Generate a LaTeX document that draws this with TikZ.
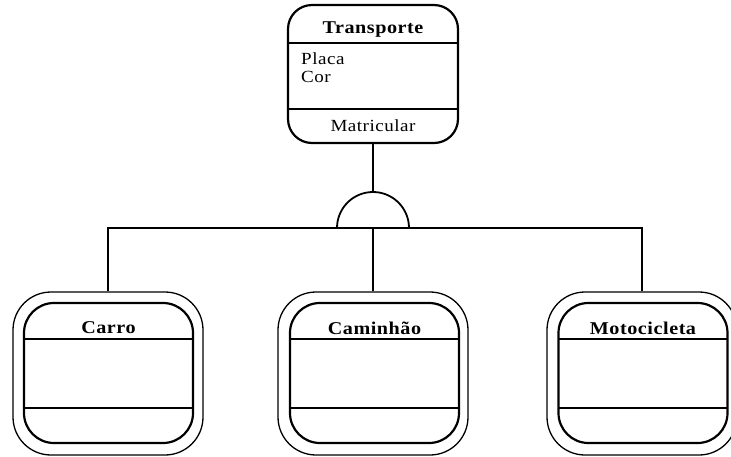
\documentclass[tikz,border=0pt]{standalone}
\usepackage{fontspec}
\setmainfont{Liberation Serif}[FakeStretch=1.12,LetterSpace=3]
\begin{document}
\begin{tikzpicture}[x=1pt,y=-1pt,
  cls/.style={draw, line width=2.2pt, rounded corners=24pt, inner sep=0pt},
  inner/.style={draw, line width=2.2pt, rounded corners=30pt, inner sep=0pt, minimum width=169pt, minimum height=140pt},
  outer/.style={draw, line width=1.3pt, rounded corners=38pt, inner sep=0pt, minimum width=190pt, minimum height=163pt},
  sep/.style={line width=1.3pt},
  conn/.style={line width=1.8pt},
  ttl/.style={font=\bfseries\fontsize{18}{20}\selectfont, inner sep=0pt},
  attr/.style={font=\fontsize{17}{19}\selectfont, inner sep=0pt}
]
\useasboundingbox (0,0) rectangle (731,456);
\clip (0,0) rectangle (731,456);

% Superclass
\node[cls, minimum width=170pt, minimum height=138pt] (T) at (373,74) {};
\draw[sep] (288,43) -- (458,43);
\draw[sep] (288,109) -- (458,109);
\node[ttl] (Tt) at (373,30) {Transporte};
\node[attr, anchor=west] (Ta1) at (301,59) {Placa};
\node[attr, anchor=west] (Ta2) at (301,77) {Cor};
\node[attr] (Tm) at (373,126) {Matricular};

% Generalisation symbol
\coordinate (gb) at (373,228);
\coordinate (gt) at (373,192);
\draw[conn] (T.south) -- (gt);
\draw[conn] (337,228) arc (180:0:36pt);

% Subclasses
\node[outer] (Co) at (108,373.5) {};
\node[inner] (C) at (108.5,373) {};
\draw[sep] (24,339) -- (193,339);
\draw[sep] (24,408) -- (193,408);
\node[ttl] (Ct) at (108.5,328) {Carro};

\node[outer] (Ko) at (373,373.5) {};
\node[inner] (K) at (374.5,373) {};
\draw[sep] (290,339) -- (459,339);
\draw[sep] (290,408) -- (459,408);
\node[ttl] (Kt) at (374.5,328) {Caminhão};

\node[outer] (Mo) at (642,373.5) {};
\node[inner] (M) at (643,373) {};
\draw[sep] (558,339) -- (728,339);
\draw[sep] (558,408) -- (728,408);
\node[ttl] (Mt) at (643,328) {Motocicleta};

% Connectors
\draw[conn] (Co.north) |- (gb) -| (Mo.north);
\draw[conn] (Ko.north) -- (gb);
\end{tikzpicture}
\end{document}
